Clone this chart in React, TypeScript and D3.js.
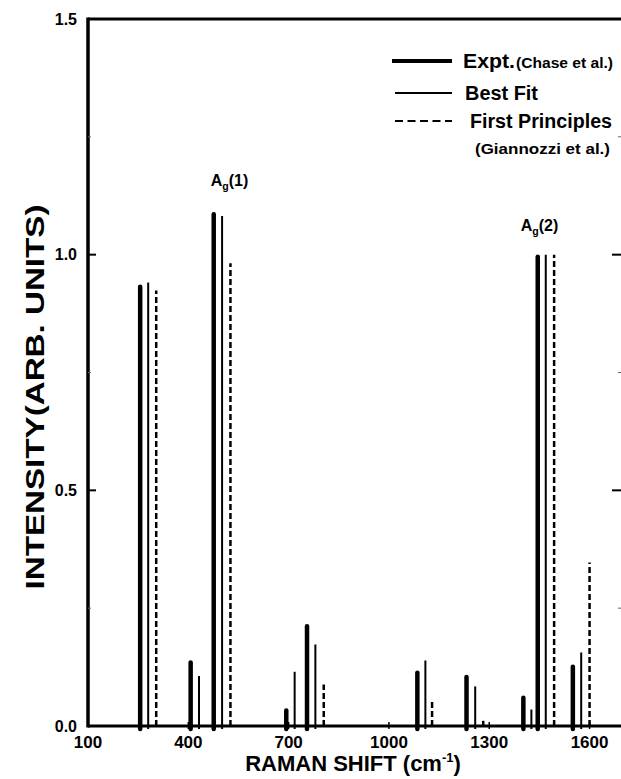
import React from 'react';
import * as d3 from 'd3';

// --- Data: peak positions (cm^-1) and relative intensities ---
const exptShift = [256, 407, 476, 693, 755, 1085, 1232, 1402, 1445, 1550];
const exptIntensity = [0.936, 0.139, 1.09, 0.037, 0.216, 0.117, 0.108, 0.064, 1.0, 0.13];
const fitShift = [280, 432, 501, 718, 780, 1109, 1258, 1426, 1469, 1575];
const fitIntensity = [0.941, 0.106, 1.082, 0.115, 0.173, 0.139, 0.084, 0.035, 1.0, 0.156];
const fpShift = [304, 526, 805, 1129, 1282, 1494, 1600];
const fpIntensity = [0.924, 0.982, 0.088, 0.057, 0.011, 1.0, 0.347];

const xTicks = [100, 400, 700, 1000, 1300, 1600];
const yTicks = [0, 0.5, 1.0, 1.5];
const yMinor = [0.25, 0.75, 1.25];

const W = 621;
const H = 779;
const margin = { top: 19, right: -2, bottom: 53, left: 88 };
const font = '"Liberation Sans", Arial, Helvetica, sans-serif';

const zip = (xs: number[], ys: number[]) => xs.map((x, i) => ({ x, y: ys[i] }));

export default function App() {
    const x = d3.scaleLinear().domain([100, 1700]).range([margin.left, W - margin.right]);
    const y = d3.scaleLinear().domain([0, 1.5]).range([H - margin.bottom, margin.top]);
    const y0 = y(0);
    const xL = x(100);
    const xR = x(1700);

    const expt = zip(exptShift, exptIntensity);
    const fit = zip(fitShift, fitIntensity);
    const fp = zip(fpShift, fpIntensity);

    return (
        <svg width={W} height={H} style={{ position: 'absolute', left: 0, top: 0, background: '#fff' }}>
            {/* frame */}
            <line x1={xL} x2={xR} y1={y(1.5)} y2={y(1.5)} stroke="#000" strokeWidth={3} />
            <line x1={xL} x2={xR} y1={y0} y2={y0} stroke="#000" strokeWidth={3} />
            <line x1={xL} x2={xL} y1={y(1.5) - 1.5} y2={y0 + 1.5} stroke="#000" strokeWidth={3.5} />
            <line x1={xR} x2={xR} y1={y(1.5)} y2={y0} stroke="#000" strokeWidth={3} />

            {/* y ticks, both sides pointing in */}
            {yTicks.filter(t => t > 0 && t < 1.5).map(t => (
                <g key={'yt' + t}>
                    <line x1={xL} x2={xL + 8} y1={y(t)} y2={y(t)} stroke="#000" strokeWidth={2} />
                    <line x1={xR - 11} x2={xR} y1={y(t)} y2={y(t)} stroke="#000" strokeWidth={2} />
                </g>
            ))}
            {yMinor.map(t => (
                <g key={'ym' + t}>
                    <line x1={xL} x2={xL + 3} y1={y(t)} y2={y(t)} stroke="#666" strokeWidth={1} />
                    <line x1={xR - 5} x2={xR} y1={y(t)} y2={y(t)} stroke="#666" strokeWidth={1} />
                </g>
            ))}
            {yTicks.map(t => (
                <text key={'yl' + t} x={77} y={y(t)} dy="0.35em" textAnchor="end"
                    fontFamily={font} fontWeight="bold" fontSize={16}>{t.toFixed(1)}</text>
            ))}

            {/* x ticks */}
            {xTicks.filter(t => t > 100).map(t => (
                <line key={'xt' + t} x1={x(t)} x2={x(t)} y1={y0 - 4} y2={y0 + 3} stroke="#000" strokeWidth={1.5} />
            ))}
            {xTicks.map(t => (
                <text key={'xl' + t} x={x(t)} y={y0 + 22} textAnchor="middle"
                    fontFamily={font} fontWeight="bold" fontSize={17}>{t}</text>
            ))}

            {/* axis titles */}
            <text x={353} y={771} textAnchor="middle" fontFamily={font} fontWeight="bold" fontSize={22}>
                RAMAN SHIFT (cm<tspan dy={-9} fontSize={13}>-1</tspan><tspan dy={9}>)</tspan>
            </text>
            <text transform={`translate(44, 397) rotate(-90)`} textAnchor="middle"
                fontFamily={font} fontWeight="bold" fontSize={26} textLength={385} lengthAdjust="spacingAndGlyphs">
                INTENSITY(ARB. UNITS)
            </text>

            {/* bars */}
            {expt.map((d, i) => (
                <line key={'e' + i} x1={x(d.x)} x2={x(d.x)} y1={y0 + 3} y2={y(d.y) + 2}
                    stroke="#000" strokeWidth={4.5} strokeLinecap="round" />
            ))}
            {fit.map((d, i) => (
                <line key={'f' + i} x1={x(d.x)} x2={x(d.x)} y1={y0 + 3} y2={y(d.y)}
                    stroke="#000" strokeWidth={2} />
            ))}
            {fp.map((d, i) => (
                <line key={'p' + i} x1={x(d.x)} x2={x(d.x)} y1={y0} y2={y(d.y)}
                    stroke="#000" strokeWidth={2.5} strokeDasharray="6,3" />
            ))}

            {/* peak labels */}
            <text x={x(476) - 3} y={y(1.09) - 26} fontFamily={font} fontWeight="bold" fontSize={16}>
                A<tspan dy={4} fontSize={10.5}>g</tspan><tspan dy={-4}>(1)</tspan>
            </text>
            <text x={x(1445) - 17} y={y(1.0) - 24} fontFamily={font} fontWeight="bold" fontSize={16}>
                A<tspan dy={4} fontSize={10.5}>g</tspan><tspan dy={-4}>(2)</tspan>
            </text>

            {/* legend */}
            <g fontFamily={font} fontWeight="bold">
                <line x1={392} x2={452} y1={61} y2={61} stroke="#000" strokeWidth={4} />
                <text x={463} y={68} fontSize={20} textLength={52} lengthAdjust="spacingAndGlyphs">Expt.</text>
                <text x={516} y={68} fontSize={15} textLength={97} lengthAdjust="spacingAndGlyphs">(Chase et al.)</text>
                <line x1={395} x2={452} y1={93} y2={93} stroke="#000" strokeWidth={2} />
                <text x={465} y={100} fontSize={20} textLength={73} lengthAdjust="spacingAndGlyphs">Best Fit</text>
                <line x1={395} x2={452} y1={121} y2={121} stroke="#000" strokeWidth={2} strokeDasharray="8,4.5" />
                <text x={470} y={128} fontSize={20} textLength={142} lengthAdjust="spacingAndGlyphs">First Principles</text>
                <text x={475} y={154} fontSize={15} textLength={135} lengthAdjust="spacingAndGlyphs">(Giannozzi et al.)</text>
            </g>
        </svg>
    );
}
